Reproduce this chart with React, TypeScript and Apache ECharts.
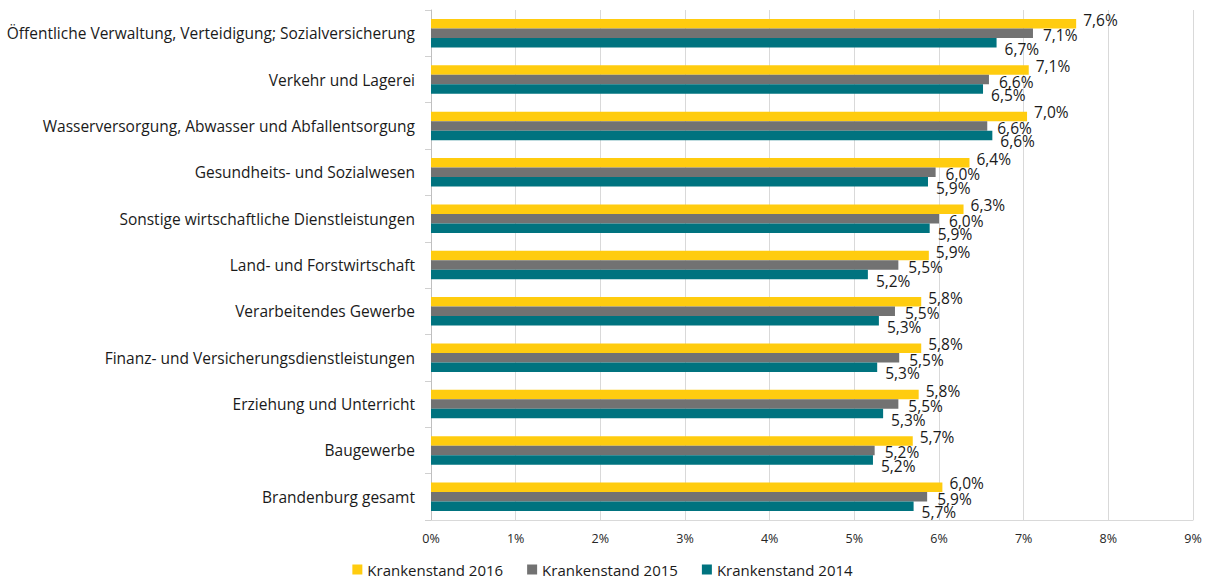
import React, { useEffect, useRef } from "react";
import * as echarts from "echarts";

const categories = [
  "Öffentliche Verwaltung, Verteidigung; Sozialversicherung",
  "Verkehr und Lagerei",
  "Wasserversorgung, Abwasser und Abfallentsorgung",
  "Gesundheits- und Sozialwesen",
  "Sonstige wirtschaftliche Dienstleistungen",
  "Land- und Forstwirtschaft",
  "Verarbeitendes Gewerbe",
  "Finanz- und Versicherungsdienstleistungen",
  "Erziehung und Unterricht",
  "Baugewerbe",
  "Brandenburg gesamt",
];

const values2016 = [7.62, 7.06, 7.04, 6.36, 6.29, 5.88, 5.79, 5.79, 5.76, 5.69, 6.04];
const values2015 = [7.11, 6.59, 6.57, 5.96, 6.0, 5.52, 5.48, 5.53, 5.52, 5.24, 5.86];
const values2014 = [6.68, 6.52, 6.63, 5.87, 5.89, 5.16, 5.29, 5.27, 5.34, 5.22, 5.7];

const seriesNames = ["Krankenstand 2016", "Krankenstand 2015", "Krankenstand 2014"];
const colors = ["#FFCC0F", "#727272", "#00737F"];
const xTicks = [0, 1, 2, 3, 4, 5, 6, 7, 8, 9];

const FONT = "Open Sans";

const fmt = (p: any) => p.value.toFixed(1).replace(".", ",") + "%";

export default function App() {
  const ref = useRef<HTMLDivElement>(null);
  useEffect(() => {
    if (!ref.current) return;
    const chart = echarts.init(ref.current, null, { renderer: "svg" });
    const datasets = [values2016, values2015, values2014];
    const offsets = [
      [2, -4],
      [5, 2],
      [3, 6],
    ];
    chart.setOption({
      animation: false,
      textStyle: { fontFamily: FONT },
      grid: { left: 431, right: 12, top: 10, bottom: 63, containLabel: false },
      legend: {
        bottom: 1,
        left: "center",
        icon: "rect",
        itemWidth: 10,
        itemHeight: 10,
        itemGap: 24,
        textStyle: { fontFamily: FONT, fontSize: 15, color: "#1a1a1a" },
        data: seriesNames,
      },
      xAxis: {
        type: "value",
        min: xTicks[0],
        max: xTicks[xTicks.length - 1],
        interval: 1,
        axisLine: { show: true, lineStyle: { color: "#d9d9d9" } },
        axisTick: { show: false },
        splitLine: { show: true, lineStyle: { color: "#d9d9d9", width: 1 } },
        axisLabel: {
          fontFamily: FONT,
          fontSize: 12.5,
          color: "#262626",
          margin: 12,
          formatter: (v: number) => v + "%",
        },
      },
      yAxis: {
        type: "category",
        inverse: true,
        data: categories,
        axisLine: { show: true, lineStyle: { color: "#bfbfbf" } },
        axisTick: { show: true, length: 6, lineStyle: { color: "#d0d0d0" } },
        axisLabel: { fontFamily: FONT, fontSize: 15.5, color: "#1a1a1a", margin: 16 },
      },
      series: datasets.map((d, i) => ({
        name: seriesNames[i],
        type: "bar",
        data: d,
        barWidth: 9.5,
        barGap: "0%",
        itemStyle: { color: colors[i] },
        label: {
          show: true,
          position: "right",
          distance: 5,
          offset: offsets[i],
          formatter: fmt,
          fontFamily: FONT,
          fontSize: 15.5,
          color: "#1a1a1a",
        },
      })),
    });
    return () => chart.dispose();
  }, []);
  return <div ref={ref} style={{ width: 1205, height: 583, position: "absolute", left: 0, top: 0 }} />;
}
